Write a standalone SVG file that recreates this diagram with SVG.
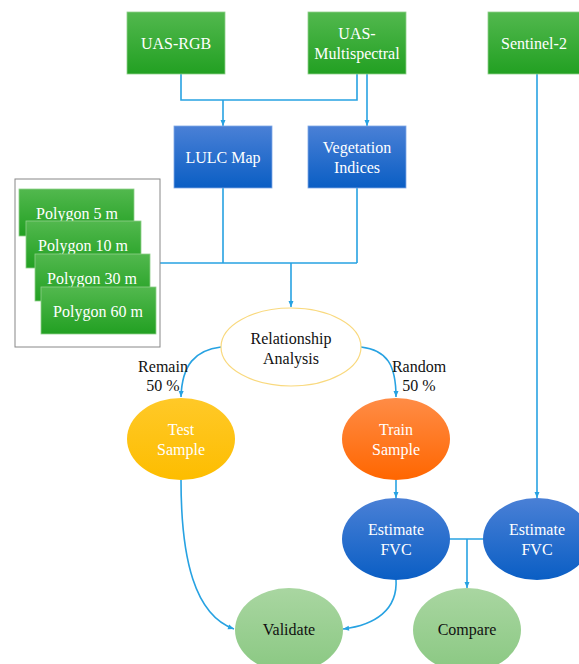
<svg xmlns="http://www.w3.org/2000/svg" width="579" height="664" viewBox="0 0 579 664">
<defs>
<linearGradient id="gGreen" x1="0" y1="0" x2="0" y2="1"><stop offset="0" stop-color="#52b84e"/><stop offset="1" stop-color="#22a022"/></linearGradient>
<linearGradient id="gBlue" x1="0" y1="0" x2="0" y2="1"><stop offset="0" stop-color="#4a80d6"/><stop offset="1" stop-color="#0a5ec4"/></linearGradient>
<linearGradient id="gGold" x1="0" y1="0" x2="0" y2="1"><stop offset="0" stop-color="#ffc928"/><stop offset="1" stop-color="#fdbd00"/></linearGradient>
<linearGradient id="gOrange" x1="0" y1="0" x2="0" y2="1"><stop offset="0" stop-color="#ff8c46"/><stop offset="1" stop-color="#ff6600"/></linearGradient>
<linearGradient id="gLight" x1="0" y1="0" x2="0" y2="1"><stop offset="0" stop-color="#a9d6a1"/><stop offset="1" stop-color="#8ac882"/></linearGradient>
<marker id="arr" markerWidth="8" markerHeight="8" refX="7" refY="4" orient="auto" markerUnits="userSpaceOnUse"><path d="M1,1.5 L7,4 L1,6.5 Z" fill="#27a2e2"/></marker>
</defs>
<style>
.box{stroke:#8fd08a;stroke-width:0.8}
.bbox{stroke:#7fa8e6;stroke-width:0.8}
text{font-family:'Liberation Serif',serif;font-size:16px;text-anchor:middle}
.w{fill:#ffffff}
.k{fill:#111111}
.c{fill:none;stroke:#27a2e2;stroke-width:1.6}
</style>
<rect width="579" height="664" fill="#ffffff"/>

<g id="connectors">
<path class="c" d="M181,74 V100 H357 V74"/>
<path class="c" d="M223,100 V126" marker-end="url(#arr)"/>
<path class="c" d="M367,74 V126" marker-end="url(#arr)"/>
<path class="c" d="M223,188 V263 M357,188 V263 M160,263 H357"/>
<path class="c" d="M291,263 V307" marker-end="url(#arr)"/>
<path class="c" d="M221,347 C195,350 182,365 181,397" marker-end="url(#arr)"/>
<path class="c" d="M361,347 C387,350 396,365 396,397" marker-end="url(#arr)"/>
<path class="c" d="M396,480 V498" marker-end="url(#arr)"/>
<path class="c" d="M537,74 V498" marker-end="url(#arr)"/>
<path class="c" d="M449,539 H484"/>
<path class="c" d="M467,539 V588" marker-end="url(#arr)"/>
<path class="c" d="M181,480 C181,560 195,615 234,629" marker-end="url(#arr)"/>
<path class="c" d="M396,579 C398,610 375,625 343,629" marker-end="url(#arr)"/>
</g>

<g id="uas-rgb"><rect class="box" x="127" y="12" width="98" height="62" fill="url(#gGreen)"/><text class="w" x="176" y="49" font-family="Liberation Serif">UAS-RGB</text></g>
<g id="uas-ms"><rect class="box" x="308" y="12" width="98" height="62" fill="url(#gGreen)"/><text class="w" x="357" y="39" font-family="Liberation Serif">UAS-</text><text class="w" x="357" y="59" font-family="Liberation Serif">Multispectral</text></g>
<g id="sentinel2"><rect class="box" x="488" y="12" width="98" height="62" fill="url(#gGreen)"/><text class="w" x="534" y="49" font-family="Liberation Serif">Sentinel-2</text></g>

<g id="lulc"><rect class="bbox" x="174" y="126" width="98" height="62" fill="url(#gBlue)"/><text class="w" x="223" y="163" font-family="Liberation Serif">LULC Map</text></g>
<g id="veg"><rect class="bbox" x="308" y="126" width="98" height="62" fill="url(#gBlue)"/><text class="w" x="357" y="153" font-family="Liberation Serif">Vegetation</text><text class="w" x="357" y="173" font-family="Liberation Serif">Indices</text></g>

<g id="polygons" font-family="Liberation Serif">
<rect x="15" y="179" width="145" height="168" fill="#ffffff" stroke="#888888" stroke-width="1"/>
<rect class="box" x="19" y="189" width="115" height="47" fill="url(#gGreen)"/><text class="w" x="77" y="219">Polygon 5 m</text>
<rect class="box" x="26" y="221" width="115" height="47" fill="url(#gGreen)"/><text class="w" x="83" y="251">Polygon 10 m</text>
<rect class="box" x="35" y="254" width="115" height="47" fill="url(#gGreen)"/><text class="w" x="92" y="284">Polygon 30 m</text>
<rect class="box" x="41" y="287" width="115" height="47" fill="url(#gGreen)"/><text class="w" x="98" y="317">Polygon 60 m</text>
</g>

<g id="relationship" font-family="Liberation Serif"><ellipse cx="291" cy="347" rx="70" ry="39" fill="#ffffff" stroke="#f9d97e" stroke-width="1.2"/><text class="k" x="291" y="344">Relationship</text><text class="k" x="291" y="364">Analysis</text></g>

<g id="labels" font-family="Liberation Serif">
<text class="k" x="163" y="372">Remain</text><text class="k" x="163" y="391">50 %</text>
<text class="k" x="419" y="372">Random</text><text class="k" x="419" y="391">50 %</text>
</g>

<g id="test" font-family="Liberation Serif"><ellipse cx="181" cy="439" rx="54" ry="41" fill="url(#gGold)"/><text class="w" x="181" y="435">Test</text><text class="w" x="181" y="455">Sample</text></g>
<g id="train" font-family="Liberation Serif"><ellipse cx="396" cy="439" rx="54" ry="41" fill="url(#gOrange)"/><text class="w" x="396" y="435">Train</text><text class="w" x="396" y="455">Sample</text></g>

<g id="estimate1" font-family="Liberation Serif"><ellipse cx="396" cy="539" rx="54" ry="41" fill="url(#gBlue)"/><text class="w" x="396" y="535">Estimate</text><text class="w" x="396" y="555">FVC</text></g>
<g id="estimate2" font-family="Liberation Serif"><ellipse cx="537" cy="539" rx="54" ry="41" fill="url(#gBlue)"/><text class="w" x="537" y="535">Estimate</text><text class="w" x="537" y="555">FVC</text></g>

<g id="validate" font-family="Liberation Serif"><ellipse cx="289" cy="630" rx="54" ry="42" fill="url(#gLight)"/><text class="k" x="289" y="635">Validate</text></g>
<g id="compare" font-family="Liberation Serif"><ellipse cx="467" cy="630" rx="54" ry="42" fill="url(#gLight)"/><text class="k" x="467" y="635">Compare</text></g>
</svg>
